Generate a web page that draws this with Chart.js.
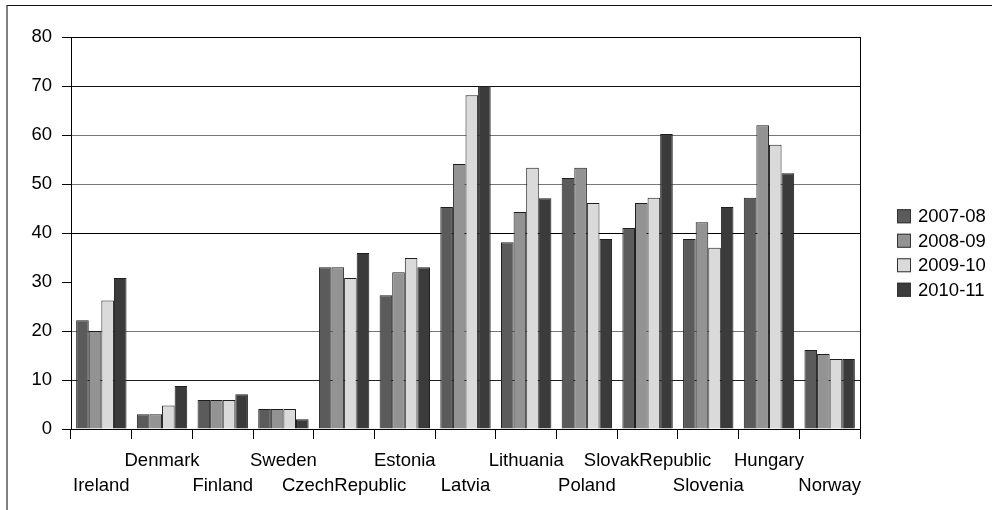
<!DOCTYPE html>
<html>
<head>
<meta charset="utf-8">
<script src="https://cdn.jsdelivr.net/npm/chart.js@4"></script>
<style>
  body { margin: 0; background: #fff; overflow: hidden; }
  #frame { position: absolute; left: 6px; top: 5px; width: 1000px; height: 600px;
           border-left: 2px solid #808080; border-top: 1px solid #111; }
  #wrap { position: absolute; left: 0; top: 0; width: 992px; height: 510px; }
</style>
</head>
<body>
<div id="frame"></div>
<div id="wrap"><canvas id="myChart" width="992" height="510"></canvas></div>
<script>
const categories = ["Ireland", "Denmark", "Finland", "Sweden", "CzechRepublic", "Estonia", "Latvia",
  "Lithuania", "Poland", "SlovakRepublic", "Slovenia", "Hungary", "Norway"];
const seriesNames = ["2007-08", "2008-09", "2009-10", "2010-11"];
const y2007 = [22.2, 3, 5.9, 4.1, 33, 27.3, 45.3, 38.1, 51.2, 41, 38.8, 47.2, 16.1];
const y2008 = [20, 3, 5.9, 4.1, 33, 32, 54.1, 44.3, 53.3, 46.1, 42.2, 62, 15.3];
const y2009 = [26.2, 4.8, 5.9, 4.1, 30.8, 34.9, 68.1, 53.3, 46.1, 47.2, 37, 58, 14.3];
const y2010 = [30.8, 8.8, 7.1, 2, 35.9, 33, 70, 47.1, 38.8, 60.2, 45.3, 52.2, 14.3];
const yTicks = [0, 10, 20, 30, 40, 50, 60, 70, 80];

const fillColors = ["#5b5b5b", "#939393", "#dadada", "#3b3b3b"];
const FONT = '"Liberation Sans", Arial, sans-serif';
const FSIZE = 18.5;

document.addEventListener("DOMContentLoaded", () => {
  const values = [y2007, y2008, y2009, y2010];

  // grid lines in the original are not all the same shade
  const gridShade = { 0: "#000", 10: "#222", 20: "#777", 30: "rgba(0,0,0,0)", 40: "#000",
    50: "#777", 60: "#777", 70: "#111", 80: "#000" };

  // legend + right border drawn by hand so the legend can sit off the plot
  const sideLegend = {
    id: "sideLegend",
    afterDraw(chart) {
      const c = chart.ctx;
      const area = chart.chartArea;
      c.save();
      c.strokeStyle = "#000";
      c.lineWidth = 1;
      c.beginPath();
      c.moveTo(area.right + 0.5, area.top);
      c.lineTo(area.right + 0.5, area.bottom);
      c.stroke();

      const step = 24.5;
      const y0 = chart.height / 2 - 1.5 * step - 2;
      const x0 = area.right + 37;
      c.font = FSIZE + "px " + FONT;
      c.textBaseline = "middle";
      c.textAlign = "left";
      chart.data.datasets.forEach((ds, i) => {
        const y = y0 + i * step;
        c.fillStyle = ds.backgroundColor;
        c.fillRect(x0, y - 7, 14, 14);
        c.strokeStyle = "#333";
        c.strokeRect(x0 + 0.5, y - 6.5, 13, 13);
        c.fillStyle = "#000";
        c.fillText(ds.label, x0 + 21, y + 1);
      });
      c.restore();
    }
  };

  var ctx = document.getElementById("myChart").getContext("2d");
  var myChart = new Chart(ctx, {
    type: "bar",
    data: {
      labels: categories,
      datasets: seriesNames.map((name, i) => ({
        label: name,
        data: values[i],
        backgroundColor: fillColors[i],
        borderColor: "#1e1e1e",
        borderWidth: 1,
        categoryPercentage: 0.83,
        barPercentage: 1
      }))
    },
    options: {
      responsive: false,
      animation: false,
      layout: { padding: { left: 0, right: 132, top: 37, bottom: 0 } },
      plugins: {
        legend: { display: false },
        tooltip: { enabled: false }
      },
      scales: {
        x: {
          grid: { offset: true, drawOnChartArea: false, tickLength: 10, color: "#000" },
          border: { color: "#000" },
          ticks: {
            autoSkip: false,
            maxRotation: 0,
            color: "#000",
            padding: 9,
            font: { family: FONT, size: FSIZE, lineHeight: 1.35 },
            callback: (v, i) => (i % 2 === 0 ? ["", categories[i]] : [categories[i]])
          },
          afterFit: scale => { scale.height = 81; }
        },
        y: {
          min: 0,
          max: 80,
          afterBuildTicks: scale => { scale.ticks = yTicks.map(v => ({ value: v })); },
          grid: {
            color: c => gridShade[c.tick.value],
            tickColor: "#000",
            tickLength: 9
          },
          border: { color: "#000" },
          ticks: { color: "#000", padding: 10, font: { family: FONT, size: FSIZE } },
          afterFit: scale => { scale.width = 71; }
        }
      }
    },
    plugins: [sideLegend]
  });
}, false);
</script>
</body>
</html>
